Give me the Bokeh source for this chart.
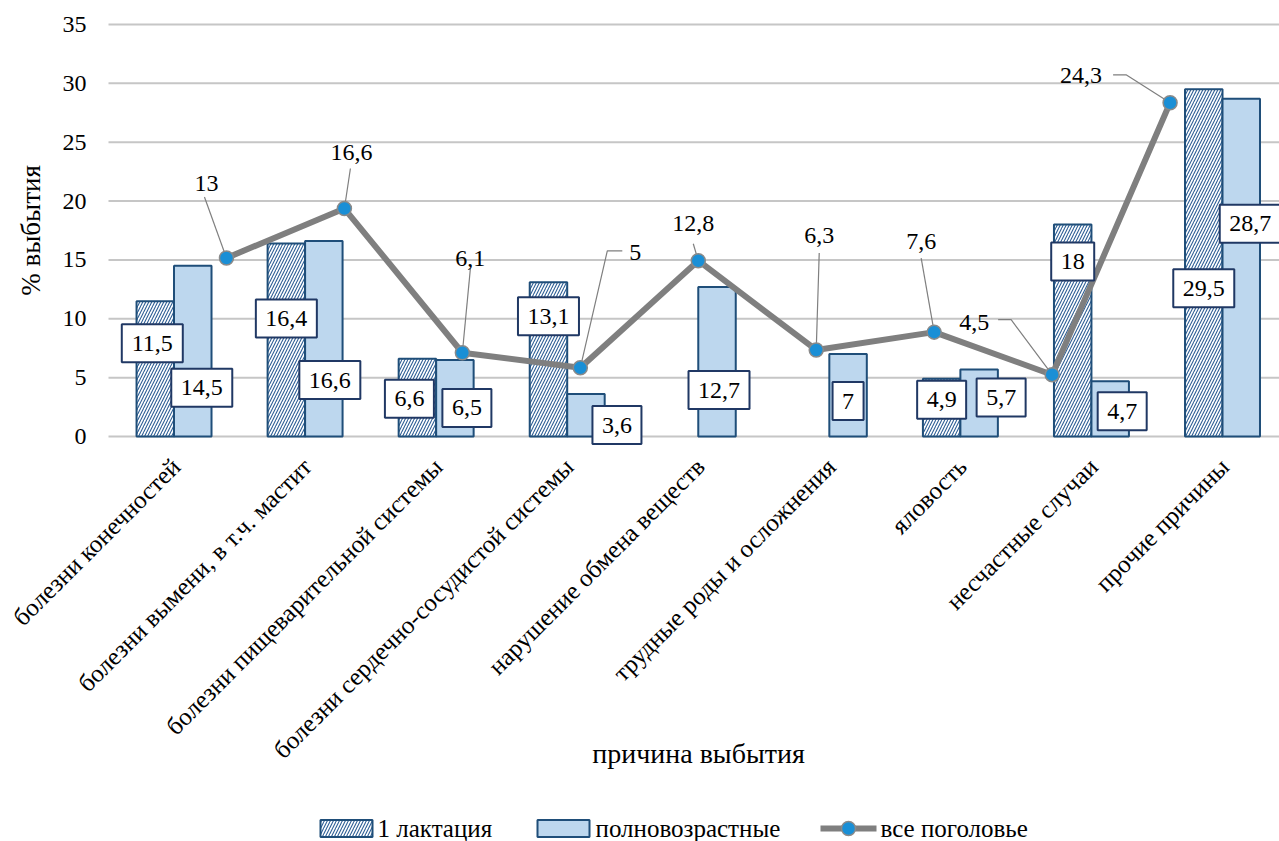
import math
from bokeh.plotting import figure
from bokeh.models import Range1d, ColumnDataSource, LabelSet
from bokeh.embed import file_html
from bokeh.resources import INLINE
from bokeh.core.properties import value

# ---- data -------------------------------------------------------------
categories = [
    "болезни конечностей",
    "болезни вымени, в т.ч. мастит",
    "болезни пищеварительной системы",
    "болезни сердечно-сосудистой системы",
    "нарушение обмена веществ",
    "трудные роды и осложнения",
    "яловость",
    "несчастные случаи",
    "прочие причины",
]
first_lactation = [11.5, 16.4, 6.6, 13.1, None, None, 4.9, 18, 29.5]
full_age = [14.5, 16.6, 6.5, 3.6, 12.7, 7, 5.7, 4.7, 28.7]
whole_herd = [13, 16.6, 6.1, 5, 12.8, 6.3, 7.6, 4.5, 24.3]
y_ticks = [0, 5, 10, 15, 20, 25, 30, 35]
series_names = ["1 лактация", "полновозрастные", "все поголовье"]
x_title = "причина выбытия"
y_title = "% выбытия"

# ---- layout -----------------------------------------------------------
FIG_W, FIG_H = 1279, 841
AXIS_PX = 108                       # screen column where the plotting area starts
TOP_PX = 24                         # screen row of the top value (35)
ZERO_PX = 436                       # screen row of the value axis zero
GROUP_PX = 131.06                   # width of one category group
KX = GROUP_PX                       # px per category unit
KX2 = GROUP_PX * 9 / 10             # px per unit on the line's secondary axis
Y_MAX, Y2_MAX = 35, 30
KY, KY2 = (ZERO_PX - TOP_PX) / Y_MAX, (ZERO_PX - TOP_PX) / Y2_MAX
BAR_W = 0.286

SERIF = "Liberation Serif"
NAVY = "#1f4e79"
BOX_LINE = "#203864"
GRID = "#c6c6c6"
LINE_GRAY = "#7f7f7f"
DOT_BLUE = "#1a8fd6"


def fmt(v):
    return f"{v:g}".replace(".", ",")


def px_x(sx):
    return (sx - AXIS_PX) / KX


def px_y(sy):
    return (ZERO_PX - sy) / KY


# the frame covers the whole canvas so that axis texts and the legend row can be
# drawn around the plotting area without being clipped
x_start, x_end = -AXIS_PX / KX, (FIG_W - AXIS_PX) / KX
p = figure(width=FIG_W, height=FIG_H, output_backend="svg", toolbar_location=None,
           x_range=Range1d(x_start, x_end),
           y_range=Range1d(px_y(FIG_H), px_y(0)),
           min_border=0, x_axis_type=None, y_axis_type=None)
p.outline_line_color = None
p.grid.visible = False
p.extra_x_ranges = {"x2": Range1d(-AXIS_PX / KX2, (FIG_W - AXIS_PX) / KX2)}
p.extra_y_ranges = {"y2": Range1d((ZERO_PX - FIG_H) / KY2, ZERO_PX / KY2)}

# horizontal grid lines and value tick labels
p.segment(x0=[0] * len(y_ticks), x1=[x_end] * len(y_ticks), y0=y_ticks, y1=y_ticks,
          line_color=GRID, line_width=2)
p.text(x=[px_x(86)] * len(y_ticks), y=y_ticks, text=[str(t) for t in y_ticks],
       text_align="right", text_baseline="middle", text_font=value(SERIF),
       text_font_size="24px", text_color="#000000")

# category labels, slanted under each group
idx = list(range(len(categories)))
centers = [i + 0.5 for i in idx]
p.text(x=[c + 2 / KX for c in centers], y=[px_y(ZERO_PX + 26)] * len(categories),
       text=categories, angle=math.pi / 4, text_align="right", text_baseline="middle",
       text_font=value(SERIF), text_font_size="25px", text_color="#000000")

# axis titles
p.text(x=[px_x(698)], y=[px_y(753)], text=[x_title], text_align="center",
       text_baseline="middle", text_font=value(SERIF), text_font_size="28px",
       text_color="#000000")
p.text(x=[px_x(30)], y=[px_y(230)], text=[y_title], angle=math.pi / 2,
       text_align="center", text_baseline="middle",
       text_font=value(SERIF), text_font_size="27px", text_color="#000000")

# bars
nan = float("nan")
src_a = ColumnDataSource(dict(x=[c - BAR_W / 2 for c in centers],
                              top=[nan if v is None else v for v in first_lactation]))
src_b = ColumnDataSource(dict(x=[c + BAR_W / 2 for c in centers], top=full_age))

hatch_style = dict(fill_color="white", line_color=NAVY, line_width=2, hatch_pattern="/",
                   hatch_color="#2e5f96", hatch_scale=6, hatch_weight=1.1)
light_style = dict(fill_color="#bdd7ee", line_color=NAVY, line_width=2)

p.vbar(x="x", top="top", width=BAR_W, source=src_a, **hatch_style)
p.vbar(x="x", top="top", width=BAR_W, source=src_b, **light_style)

# line on the secondary scales
line_x = [i + 1 for i in idx]
line_src = ColumnDataSource(dict(x=line_x, y=whole_herd))
p.line("x", "y", source=line_src, x_range_name="x2", y_range_name="y2",
       line_color=LINE_GRAY, line_width=6)

# leader lines for the line's value labels (pixel offsets from each point)
leader_paths = [
    [(-22, 61)], [(6, 40)], [(8, 84)], [(42, 117), (27, 117)], [(-5, 17)],
    [(3, 97)], [(-13, 74)], [(-54, 55), (-41, 55)], [(-57, 28), (-44, 28)],
]
lx, ly = [], []
for xv, yv, path in zip(line_x, whole_herd, leader_paths):
    lx.append([xv + dx / KX2 for dx, dy in path] + [xv])
    ly.append([yv + dy / KY2 for dx, dy in path] + [yv])
p.multi_line(lx, ly, x_range_name="x2", y_range_name="y2",
             line_color=LINE_GRAY, line_width=1.2)

p.scatter("x", "y", source=line_src, x_range_name="x2", y_range_name="y2",
          size=14, fill_color=DOT_BLUE, line_color="#8a8a8a", line_width=1.5)

# value labels of the line
line_lbl_off = [(-20, 74), (7, 56), (8, 94), (55, 115), (-5, 37),
                (3, 114), (-13, 91), (-78, 52), (-89, 27)]
line_lbl = ColumnDataSource(dict(
    x=[xv + o[0] / KX2 for xv, o in zip(line_x, line_lbl_off)],
    y=[yv + o[1] / KY2 for yv, o in zip(whole_herd, line_lbl_off)],
    t=[fmt(v) for v in whole_herd]))
p.add_layout(LabelSet(x="x", y="y", text="t", source=line_lbl,
                      x_range_name="x2", y_range_name="y2",
                      text_align="center", text_baseline="middle",
                      text_font=SERIF, text_font_size="24px", text_color="#000000"))

# boxed value labels of the bars (pixel offsets: right, down from bar top)
lbl_off_a = [(-3, 42), (0, 75), (-8, 40), (0, 34), None, None, (0, 21), (0, 37), (0, 199)]
lbl_off_b = [(9, 122), (6, 139), (12, 48), (31, 31), (2, 103), (0, 47), (22, 28), (12, 30), (9, 125)]


def box_width(t):
    # digits ~12 px, comma ~6 px at 24 px serif, plus inner margin
    return sum(6 if ch == "," else 12 for ch in t) + 19


def bar_labels(xs, vals, offs):
    X, Y, T, W = [], [], [], []
    for xv, v, o in zip(xs, vals, offs):
        if v is None or o is None:
            continue
        X.append(xv + o[0] / KX)
        Y.append(v - o[1] / KY)
        T.append(fmt(v))
        W.append(box_width(fmt(v)))
    return ColumnDataSource(dict(x=X, y=Y, t=T, w=W))


for xs, vals, offs in [(src_a.data["x"], first_lactation, lbl_off_a),
                       (src_b.data["x"], full_age, lbl_off_b)]:
    s = bar_labels(xs, vals, offs)
    p.rect(x="x", y="y", width="w", height=38, width_units="screen",
           height_units="screen", source=s, fill_color="white",
           line_color=BOX_LINE, line_width=2)
    p.text(x="x", y="y", text="t", source=s, text_align="center",
           text_baseline="middle", text_font=value(SERIF), text_font_size="24px",
           text_color="#000000")

# legend row under the chart: swatches and their names
LEG_Y = px_y(828)
p.rect(x=[px_x(346)], y=[LEG_Y], width=52, height=17, width_units="screen",
       height_units="screen", **hatch_style)
p.rect(x=[px_x(563)], y=[LEG_Y], width=52, height=17, width_units="screen",
       height_units="screen", **light_style)
p.line(x=[px_x(820), px_x(876)], y=[LEG_Y, LEG_Y], line_color=LINE_GRAY, line_width=6)
p.scatter(x=[px_x(848)], y=[LEG_Y], size=14, fill_color=DOT_BLUE,
          line_color="#8a8a8a", line_width=1.5)
p.text(x=[px_x(377), px_x(595), px_x(880)], y=[LEG_Y] * 3, text=series_names,
       text_align="left", text_baseline="middle", text_font=value(SERIF),
       text_font_size="25px", text_color="#000000")

open("out.html", "w").write(file_html(p, INLINE))
